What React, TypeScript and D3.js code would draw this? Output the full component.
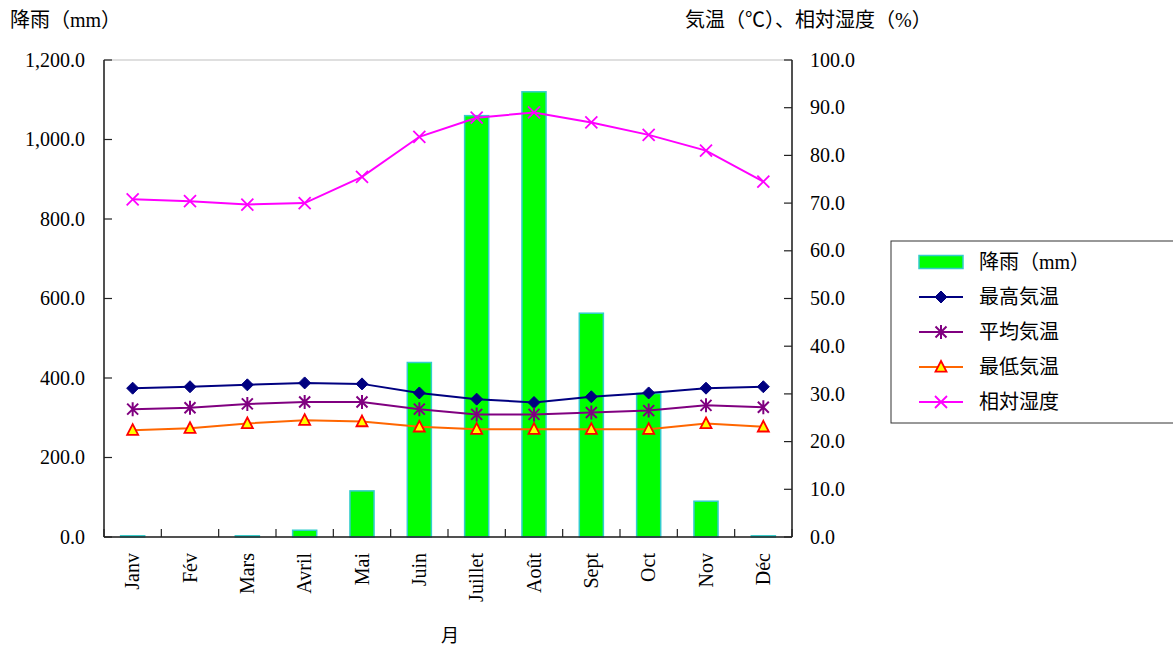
import { useMemo } from "react";
import * as d3 from "d3";

// Chart size and plot area
const WIDTH = 1173;
const HEIGHT = 649;
const PLOT = { left: 104, right: 792, top: 60, bottom: 537 };
const TICK_LENGTH = 8;
const SERIF = "'Liberation Serif', 'Noto Sans CJK JP', serif";

const months = ["Janv", "Fév", "Mars", "Avril", "Mai", "Juin", "Juillet", "Août", "Sept", "Oct", "Nov", "Déc"];
const rainfall = [3, 0, 3, 17, 116, 439, 1060, 1120, 563, 361, 90, 3];
const tempMax = [31.2, 31.5, 31.9, 32.3, 32.1, 30.2, 28.9, 28.2, 29.4, 30.2, 31.2, 31.5];
const tempMean = [26.8, 27.1, 27.9, 28.3, 28.3, 26.8, 25.7, 25.7, 26.1, 26.5, 27.6, 27.2];
const tempMin = [22.4, 22.8, 23.8, 24.5, 24.2, 23.1, 22.6, 22.6, 22.6, 22.6, 23.8, 23.1];
const humidity = [70.8, 70.4, 69.7, 70.0, 75.5, 83.9, 87.9, 89.0, 86.9, 84.3, 81.0, 74.5];

const leftTicks = [0, 200, 400, 600, 800, 1000, 1200];
const rightTicks = [0, 10, 20, 30, 40, 50, 60, 70, 80, 90, 100];

type MarkerKind = "diamond" | "star" | "triangle" | "cross";

type LineSeries = {
  name: string;
  values: number[];
  color: string;
  marker: MarkerKind;
};

const lineSeries: LineSeries[] = [
  { name: "最高気温", values: tempMax, color: "#000080", marker: "diamond" },
  { name: "平均気温", values: tempMean, color: "#800080", marker: "star" },
  { name: "最低気温", values: tempMin, color: "#FF6600", marker: "triangle" },
  { name: "相対湿度", values: humidity, color: "#FF00FF", marker: "cross" },
];

const Marker = ({ kind, x, y, color }: { kind: MarkerKind; x: number; y: number; color: string }) => {
  if (kind === "diamond") {
    const s = 6;
    return <path d={`M${x},${y - s}L${x + s},${y}L${x},${y + s}L${x - s},${y}Z`} fill={color} stroke={color} strokeWidth={1} />;
  }
  if (kind === "star") {
    const s = 5.5;
    return (
      <path
        d={`M${x - s},${y - s}L${x + s},${y + s}M${x - s},${y + s}L${x + s},${y - s}M${x},${y - s - 1.5}L${x},${y + s + 1.5}`}
        stroke={color}
        strokeWidth={2}
        fill="none"
      />
    );
  }
  if (kind === "triangle") {
    const s = 5.5;
    return (
      <path
        d={`M${x},${y - s - 0.5}L${x + s},${y + s * 0.85}L${x - s},${y + s * 0.85}Z`}
        fill="#FFFF00"
        stroke="#FF0000"
        strokeWidth={1.8}
        strokeLinejoin="miter"
      />
    );
  }
  const s = 6;
  return (
    <path d={`M${x - s},${y - s}L${x + s},${y + s}M${x - s},${y + s}L${x + s},${y - s}`} stroke={color} strokeWidth={1.8} fill="none" />
  );
};

export default function App() {
  const xBand = useMemo(
    () => d3.scaleBand<string>().domain(months).range([PLOT.left, PLOT.right]).padding(0),
    []
  );
  const yLeft = useMemo(() => d3.scaleLinear().domain([0, 1200]).range([PLOT.bottom, PLOT.top]), []);
  const yRight = useMemo(() => d3.scaleLinear().domain([0, 100]).range([PLOT.bottom, PLOT.top]), []);

  const cx = (m: string) => (xBand(m) ?? 0) + xBand.bandwidth() / 2;
  const barWidth = xBand.bandwidth() * 0.42;

  const lines = lineSeries.map((s) => {
    const gen = d3
      .line<number>()
      .x((_, i) => cx(months[i]))
      .y((d) => yRight(d));
    return { ...s, path: gen(s.values) || "" };
  });

  const boundaries = d3.range(months.length + 1).map((i) => PLOT.left + i * xBand.step());

  const legendX = 891;
  const legendY = 241;
  const legendRows = [{ name: "降雨（mm）" }, ...lineSeries];

  return (
    <svg
      width={WIDTH}
      height={HEIGHT}
      style={{ position: "fixed", left: 0, top: 0, background: "#fff" }}
      fontFamily={SERIF}
    >
      {/* plot frame */}
      <rect
        x={PLOT.left}
        y={PLOT.top}
        width={PLOT.right - PLOT.left}
        height={PLOT.bottom - PLOT.top}
        fill="none"
        stroke="#c0c0c0"
        strokeWidth={1}
      />

      {/* rainfall bars */}
      {months.map((m, i) =>
        rainfall[i] > 0 ? (
          <rect
            key={m}
            x={cx(m) - barWidth / 2}
            y={yLeft(rainfall[i])}
            width={barWidth}
            height={yLeft(0) - yLeft(rainfall[i])}
            fill="#00FF00"
            stroke="#33CCCC"
            strokeWidth={1.5}
          />
        ) : null
      )}

      {/* lines with markers */}
      {lines.map((s) => (
        <g key={s.name}>
          <path d={s.path} fill="none" stroke={s.color} strokeWidth={2} />
          {s.values.map((v, i) => (
            <Marker key={i} kind={s.marker} x={cx(months[i])} y={yRight(v)} color={s.color} />
          ))}
        </g>
      ))}

      {/* left axis */}
      <line x1={PLOT.left} x2={PLOT.left} y1={PLOT.top} y2={PLOT.bottom} stroke="#222" strokeWidth={1.5} />
      {leftTicks.map((t) => (
        <g key={t} transform={`translate(0, ${yLeft(t)})`}>
          <line x1={PLOT.left} x2={PLOT.left + TICK_LENGTH} stroke="#222" strokeWidth={1.2} />
          <text x={85} dy="0.33em" textAnchor="end" fontSize={20} fill="#000">
            {d3.format(",.1f")(t)}
          </text>
        </g>
      ))}

      {/* right axis */}
      <line x1={PLOT.right} x2={PLOT.right} y1={PLOT.top} y2={PLOT.bottom} stroke="#222" strokeWidth={1.5} />
      {rightTicks.map((t) => (
        <g key={t} transform={`translate(0, ${yRight(t)})`}>
          <line x1={PLOT.right - TICK_LENGTH} x2={PLOT.right} stroke="#222" strokeWidth={1.2} />
          <text x={810} dy="0.33em" textAnchor="start" fontSize={20} fill="#000">
            {d3.format(".1f")(t)}
          </text>
        </g>
      ))}

      {/* bottom axis */}
      <line x1={PLOT.left} x2={PLOT.right} y1={PLOT.bottom} y2={PLOT.bottom} stroke="#222" strokeWidth={1.5} />
      {boundaries.map((bx, i) => (
        <line key={i} x1={bx} x2={bx} y1={PLOT.bottom - TICK_LENGTH} y2={PLOT.bottom} stroke="#222" strokeWidth={1.2} />
      ))}
      {months.map((m) => (
        <text
          key={m}
          transform={`translate(${cx(m)}, 553) rotate(-90)`}
          textAnchor="end"
          dy="0.33em"
          fontSize={20}
          fill="#000"
        >
          {m}
        </text>
      ))}

      {/* axis titles */}
      <text x={10} y={27} fontSize={20} fill="#000">
        降雨（mm）
      </text>
      <text x={685} y={27} fontSize={20} fill="#000">
        気温（℃）、相対湿度（%）
      </text>
      <text x={450} y={642} textAnchor="middle" fontSize={18} fill="#000">
        月
      </text>

      {/* legend */}
      <rect x={legendX} y={legendY} width={300} height={182} fill="#fff" stroke="#333" strokeWidth={1} />
      {legendRows.map((row, i) => {
        const ry = 262 + i * 35;
        return (
          <g key={row.name}>
            {i === 0 ? (
              <rect x={919} y={ry - 6.5} width={44} height={13} fill="#00FF00" stroke="#33CCCC" strokeWidth={1.5} />
            ) : (
              <>
                <line x1={919} x2={963} y1={ry} y2={ry} stroke={(row as LineSeries).color} strokeWidth={2} />
                <Marker kind={(row as LineSeries).marker} x={941} y={ry} color={(row as LineSeries).color} />
              </>
            )}
            <text x={979} y={ry} dy="0.35em" fontSize={20} fill="#000">
              {row.name}
            </text>
          </g>
        );
      })}
    </svg>
  );
}
